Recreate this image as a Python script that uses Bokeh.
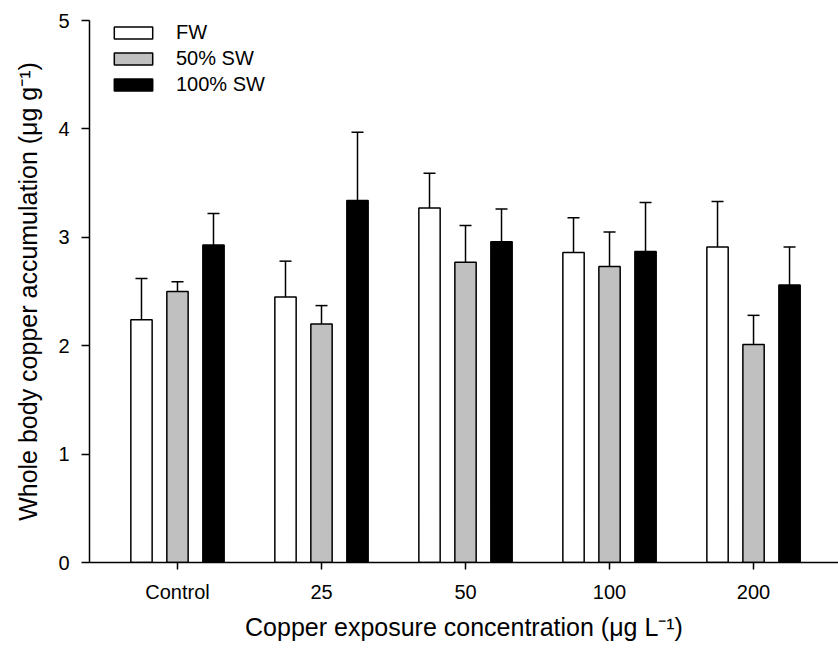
from bokeh.plotting import figure
from bokeh.models import ColumnDataSource, Range1d, FixedTicker, Whisker, TeeHead, Legend, LegendItem
from bokeh.transform import dodge
from bokeh.embed import file_html
from bokeh.resources import INLINE

categories = ["Control", "25", "50", "100", "200"]
positions = [1, 2, 3, 4, 5]
fw_mean = [2.24, 2.45, 3.27, 2.86, 2.91]
fw_upper = [2.62, 2.78, 3.59, 3.18, 3.33]
sw50_mean = [2.50, 2.20, 2.77, 2.73, 2.01]
sw50_upper = [2.59, 2.37, 3.11, 3.05, 2.28]
sw100_mean = [2.93, 3.34, 2.96, 2.87, 2.56]
sw100_upper = [3.22, 3.97, 3.26, 3.32, 2.91]
series_names = ["FW", "50% SW", "100% SW"]
series_colors = ["white", "#c0c0c0", "black"]
y_ticks = [0, 1, 2, 3, 4, 5]

FONT = "Liberation Sans"

source = ColumnDataSource(dict(
    x=positions, cat=categories,
    fw=fw_mean, fw_up=fw_upper,
    s50=sw50_mean, s50_up=sw50_upper,
    s100=sw100_mean, s100_up=sw100_upper,
))

p = figure(width=838, height=654, output_backend="svg", toolbar_location=None,
           x_range=Range1d(0.389, 5.590), y_range=Range1d(0, 5),
           min_border_left=89, min_border_right=0, min_border_top=20, min_border_bottom=92)
p.outline_line_color = None
p.xgrid.visible = False
p.ygrid.visible = False

bw = 0.148
offsets = [-0.25, 0.0, 0.25]
fields = [("fw", "fw_up"), ("s50", "s50_up"), ("s100", "s100_up")]
renderers = []
for (mf, uf), off, col in zip(fields, offsets, series_colors):
    r = p.vbar(x=dodge("x", off, range=p.x_range), top=mf, bottom=0, width=bw, source=source,
               fill_color=col, line_color="black", line_width=1.5)
    renderers.append(r)
    w = Whisker(base=dodge("x", off, range=p.x_range), lower=mf, upper=uf, source=source,
                line_color="black", line_width=1.5,
                upper_head=TeeHead(size=12, line_color="black", line_width=1.5),
                lower_head=None, level="underlay")
    p.add_layout(w)

legend = Legend(items=[LegendItem(label=n, renderers=[r]) for n, r in zip(series_names, renderers)],
                location=(20, 466), padding=6, margin=0, spacing=3,
                glyph_width=48, glyph_height=15, label_height=23,
                label_text_font=FONT, label_text_font_size="20px", label_standoff=19,
                label_text_color="black",
                border_line_color=None, background_fill_alpha=0)
p.add_layout(legend, "center")

for ax in (p.xaxis[0], p.yaxis[0]):
    ax.axis_line_width = 1.5
    ax.axis_line_color = "black"
    ax.major_tick_line_width = 1.5
    ax.major_tick_line_color = "black"
    ax.minor_tick_line_color = None
    ax.major_tick_in = 0
    ax.major_label_text_font = FONT
    ax.major_label_text_font_size = "20px"
    ax.major_label_text_color = "black"
    ax.axis_label_text_font = FONT
    ax.axis_label_text_font_size = "25px"
    ax.axis_label_text_font_style = "normal"
    ax.axis_label_text_color = "black"

p.xaxis.ticker = FixedTicker(ticks=positions)
p.xaxis.major_label_overrides = {pos: c for pos, c in zip(positions, categories)}
p.xaxis.major_tick_out = 7
p.xaxis.major_label_standoff = 11
p.xaxis.axis_label = "Copper exposure concentration (\u03bcg L\u207b\u00b9)"
p.xaxis.axis_label_standoff = 7

p.yaxis.ticker = FixedTicker(ticks=y_ticks)
p.yaxis.major_tick_out = 8
p.yaxis.major_label_standoff = 12
p.yaxis.axis_label = "Whole body copper accumulation (\u03bcg g\u207b\u00b9)"
p.yaxis.axis_label_standoff = 13

open("out.html", "w").write(file_html(p, INLINE))
